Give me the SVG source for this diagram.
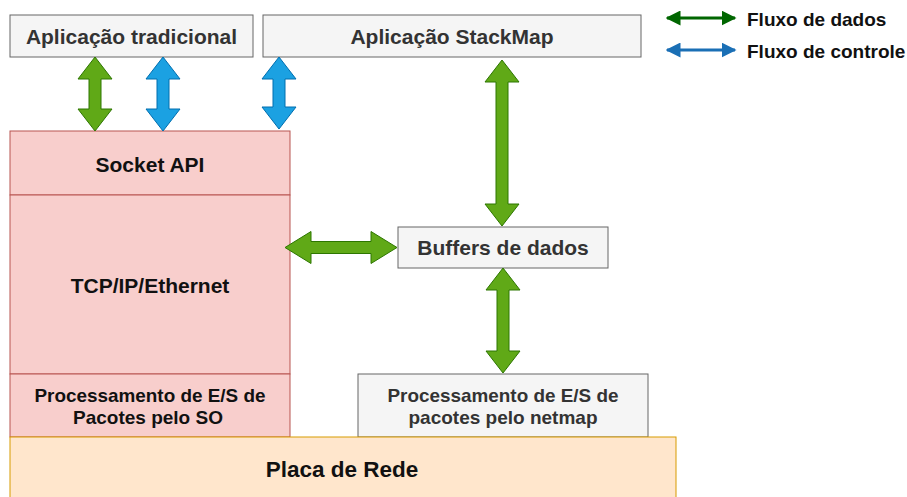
<svg xmlns="http://www.w3.org/2000/svg" width="907" height="497" viewBox="0 0 907 497">
<style>
text{font-family:"Liberation Sans",Arial,sans-serif;font-weight:bold;text-anchor:middle}
.gray{fill:#f5f5f5;stroke:#666666;stroke-width:1}
.gray-t{fill:#333333;font-size:21px}
.pink{fill:#f8cecc;stroke:#b85450;stroke-width:1}
.pink-t{fill:#111111;font-size:21px}
.orange{fill:#ffe6cc;stroke:#d79b00;stroke-width:1}
.green{fill:#60a917;stroke:#2d7600;stroke-width:1}
.blue{fill:#1ba1e2;stroke:#006eaf;stroke-width:1}
.leg-t{fill:#111111;font-size:19px;text-anchor:start}
.small{font-size:19px}
</style>
<defs>
<marker id="hg" viewBox="0 0 10 10" refX="9" refY="5" markerWidth="5" markerHeight="5" orient="auto-start-reverse"><path d="M0,0 L10,5 L0,10 Z" fill="#006600"/></marker>
<marker id="hb" viewBox="0 0 10 10" refX="9" refY="5" markerWidth="5" markerHeight="5" orient="auto-start-reverse"><path d="M0,0 L10,5 L0,10 Z" fill="#1a6fb5"/></marker>
</defs>

<g id="app-tradicional">
<rect class="gray" x="10" y="15" width="243" height="42"/>
<text class="gray-t" x="131.5" y="44">Aplicação tradicional</text>
</g>
<g id="app-stackmap">
<rect class="gray" x="263" y="15" width="378" height="42"/>
<text class="gray-t" x="452" y="44">Aplicação StackMap</text>
</g>
<g id="socket-api">
<rect class="pink" x="10" y="131" width="280" height="64"/>
<text class="pink-t" x="150" y="172">Socket API</text>
</g>
<g id="tcpip">
<rect class="pink" x="10" y="195" width="280" height="179"/>
<text class="pink-t" x="150" y="293">TCP/IP/Ethernet</text>
</g>
<g id="proc-so">
<rect class="pink" x="10" y="374" width="280" height="63"/>
<text class="pink-t small" x="150" y="402" textLength="231" lengthAdjust="spacingAndGlyphs">Processamento de E/S de</text>
<text class="pink-t small" x="148" y="424">Pacotes pelo SO</text>
</g>
<g id="buffers">
<rect class="gray" x="398" y="227" width="210" height="41"/>
<text class="gray-t" x="503" y="255">Buffers de dados</text>
</g>
<g id="proc-netmap">
<rect class="gray" x="358" y="374" width="290" height="63"/>
<text class="gray-t small" x="503" y="402" textLength="231" lengthAdjust="spacingAndGlyphs">Processamento de E/S de</text>
<text class="gray-t small" x="503" y="424">pacotes pelo netmap</text>
</g>
<g id="placa-rede">
<rect class="orange" x="10" y="437" width="666" height="70"/>
<text class="pink-t" x="342" y="477" style="font-size:22.5px">Placa de Rede</text>
</g>

<g id="connectors">
<polygon class="green" points="95,57 112,79 101,79 101,109 112,109 95,131 78,109 89,109 89,79 78,79"/>
<polygon class="blue" points="163,57 180,79 169,79 169,109 180,109 163,131 146,109 157,109 157,79 146,79"/>
<polygon class="blue" points="279,57 296,79 285,79 285,107 296,107 279,129 262,107 273,107 273,79 262,79"/>
<polygon class="green" points="502,60 519,82 508,82 508,204 519,204 502,226 485,204 496,204 496,82 485,82"/>
<polygon class="green" points="503,268 520,290 509,290 509,351 520,351 503,373 486,351 497,351 497,290 486,290"/>
<polygon class="green" points="285,247.5 311,231.5 311,241.5 371,241.5 371,231.5 397,247.5 371,263.5 371,253.5 311,253.5 311,263.5"/>
</g>

<g id="legend">
<line x1="667" y1="18" x2="735" y2="18" stroke="#006600" stroke-width="3" marker-start="url(#hg)" marker-end="url(#hg)"/>
<text class="leg-t" x="747" y="26">Fluxo de dados</text>
<line x1="667" y1="50" x2="735" y2="50" stroke="#1a6fb5" stroke-width="3" marker-start="url(#hb)" marker-end="url(#hb)"/>
<text class="leg-t" x="747" y="58">Fluxo de controle</text>
</g>
</svg>
